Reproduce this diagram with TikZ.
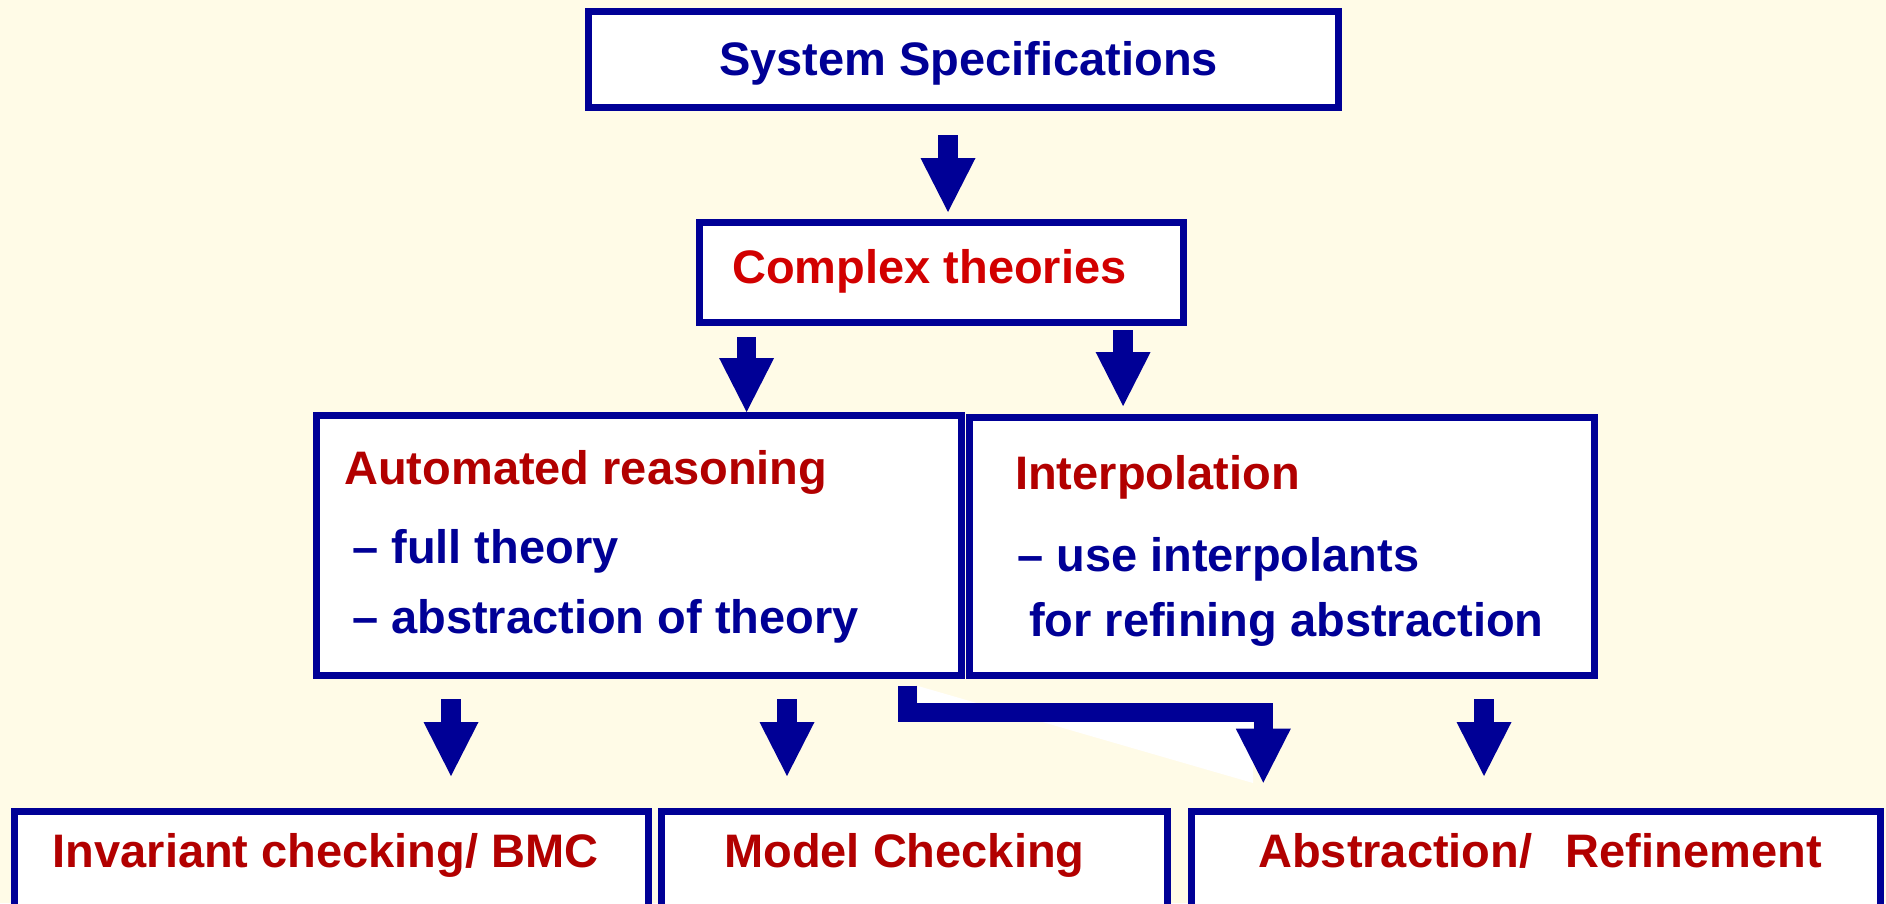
\documentclass[tikz,border=0pt]{standalone}
\usepackage{fontspec}
\setmainfont{Liberation Sans}
\usetikzlibrary{arrows.meta}
\definecolor{navy}{RGB}{0,0,150}
\definecolor{dred}{RGB}{178,0,0}
\definecolor{bred}{RGB}{210,0,0}
\definecolor{cream}{RGB}{255,251,231}
\begin{document}
\begin{tikzpicture}[x=1pt,y=-1pt,
  box/.style={draw=navy, line width=7pt, fill=white, inner sep=0pt},
  txt/.style={inner sep=0pt, anchor=base west, font=\fontsize{47}{56}\selectfont\bfseries},
  blk/.style={draw=navy, line width=19.5pt, line join=miter,
    -{Triangle[length=54pt,width=55pt,line width=0pt]}}]
\fill[cream] (0,0) rectangle (1886,903);
\useasboundingbox (0,0) rectangle (1886,903);
\clip (0,0) rectangle (1886,903);
% white artifact behind the bent arrow
\fill[white] (918,686) -- (1253,783) -- (1253,712) -- (918,712) -- cycle;
% boxes
\node[box, minimum width=750pt, minimum height=96pt] (spec) at (963.5,59.5) {};
\node[box, minimum width=484pt, minimum height=100pt] (ct) at (941.5,272.5) {};
\node[box, minimum width=645pt, minimum height=260pt] (ar) at (639,545.5) {};
\node[box, minimum width=625pt, minimum height=258pt] (ip) at (1282,546.5) {};
\node[box, minimum width=634pt, minimum height=128.5pt] (b1) at (331.5,875.75) {};
\node[box, minimum width=506pt, minimum height=128.5pt] (b2) at (914.5,875.75) {};
\node[box, minimum width=689pt, minimum height=128.5pt] (b3) at (1536,875.75) {};
% texts
\node[txt, text=navy] (specT) at (719,75) {System Specifications};
\node[txt, text=bred] (ctT) at (732,283) {Complex theories};
\node[txt, text=dred] (arT) at (344,484) {Automated reasoning};
\node[txt, text=navy] (arA) at (352,563) {– full theory};
\node[txt, text=navy] (arB) at (352,633) {– abstraction of theory};
\node[txt, text=dred] (ipT) at (1015,489) {Interpolation};
\node[txt, text=navy] (ipA) at (1017,571) {– use interpolants};
\node[txt, text=navy] (ipB) at (1029,636) {for refining abstraction};
\node[txt, text=dred] (b1T) at (52.5,867) {Invariant checking/ BMC};
\node[txt, text=dred] (b2T) at (724,867) {Model Checking};
\node[txt, text=dred] (b3T) at (1258,867) {Abstraction/\hspace{33.5pt}Refinement};
% arrow coordinates
\coordinate (a1s) at (948,135);    \coordinate (a1e) at (948,212);
\coordinate (a2s) at (746.6,337);  \coordinate (a2e) at (746.6,412);
\coordinate (a3s) at (1123.1,330); \coordinate (a3e) at (1123.1,406);
\coordinate (a4s) at (451,699);    \coordinate (a4e) at (451,776);
\coordinate (a5s) at (787,699);    \coordinate (a5e) at (787,776);
\coordinate (a6s) at (1484,699);   \coordinate (a6e) at (1484,776);
\coordinate (bs) at (907.7,685.7);
\coordinate (bc1) at (907.7,712.3);
\coordinate (bc2) at (1263.3,712.3);
\coordinate (be) at (1263.3,782.7);
% arrows
\draw[blk] (a1s) -- (a1e);
\draw[blk] (a2s) -- (a2e);
\draw[blk] (a3s) -- (a3e);
\draw[blk] (a4s) -- (a4e);
\draw[blk] (a5s) -- (a5e);
\draw[blk] (a6s) -- (a6e);
\draw[blk] (bs) -- (bc1) -- (bc2) -- (be);
\end{tikzpicture}
\end{document}
